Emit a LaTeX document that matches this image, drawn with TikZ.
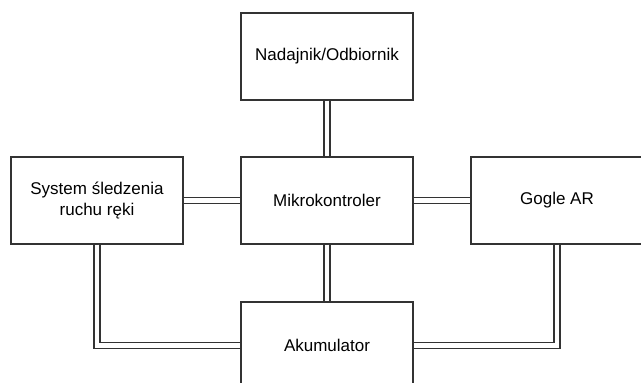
\documentclass[tikz,border=0pt]{standalone}
\usepackage{fontspec}
\setsansfont{Liberation Sans}
\tikzset{
  block/.style={draw=black!80, fill=white, line width=1.3pt, minimum width=172pt, minimum height=87pt, inner sep=0pt, align=center, font=\sffamily\fontsize{17}{21}\selectfont},
  wire/.style={draw=black!80, line width=1.2pt, double=white, double distance=4.8pt, line cap=butt, line join=miter},
}

\begin{document}
\begin{tikzpicture}[x=1pt,y=1pt]
\useasboundingbox (0,0) rectangle (641,383);
\node[block] (radio) at (327,326.5) {Nadajnik/Odbiornik};
\node[block] (mcu) at (327,182.5) {Mikrokontroler};
\node[block] (hand) at (97,182.5) {System śledzenia\\ruchu ręki};
\node[block] (goggles) at (557,182.5) {Gogle AR};
\node[block] (battery) at (327,37.5) {Akumulator};
\draw[wire] (radio) -- (mcu);
\draw[wire] (hand) -- (mcu);
\draw[wire] (mcu) -- (goggles);
\draw[wire] (mcu) -- (battery);
\draw[wire] (hand) |- (battery);
\draw[wire] (goggles) |- (battery);
\end{tikzpicture}
\end{document}
